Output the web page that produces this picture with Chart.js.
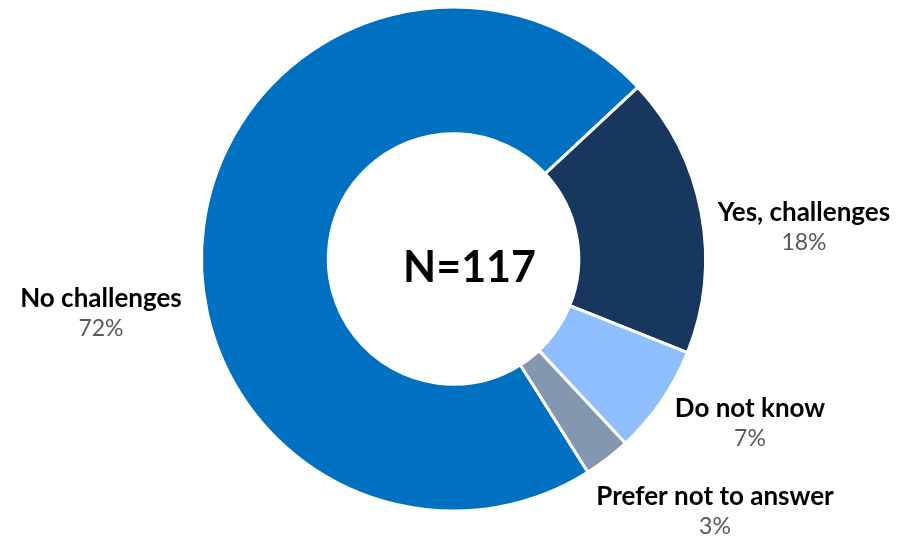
<!DOCTYPE html>
<html>
<head>
<meta charset="utf-8">
<script src="https://cdn.jsdelivr.net/npm/chart.js@4.4.1/dist/chart.umd.min.js"></script>
<style>
    html, body { margin: 0; padding: 0; background: #ffffff; }
    #wrap { width: 901px; height: 536px; position: relative; }
</style>
</head>
<body>
<div id="wrap"><canvas id="challengesChart" width="901" height="536"></canvas></div>
<script>
// ── Data ──────────────────────────────────────────────────────
const categories = ['Yes, challenges', 'Do not know', 'Prefer not to answer', 'No challenges'];
const shares     = [18, 7, 3, 72];
const sliceColors = ['#17375E', '#8FBEFF', '#8497B0', '#0070C0'];
const totalLabel = 'N=117';

// label anchors (centre of the two-line label), canvas px
const labelAnchors = [
    { x: 804, y: 213 },
    { x: 750, y: 409 },
    { x: 715, y: 497 },
    { x: 101, y: 299 }
];

// ── Outside labels + centre text ──────────────────────────────
const sliceLabels = {
    id: 'sliceLabels',
    afterDatasetsDraw(chart) {
        const ctx = chart.ctx;
        const meta = chart.getDatasetMeta(0);
        ctx.save();
        ctx.textAlign = 'center';
        ctx.textBaseline = 'middle';
        meta.data.forEach((arc, i) => {
            const a = labelAnchors[i];
            ctx.fillStyle = '#000000';
            ctx.font = 'bold 26px Lato';
            ctx.fillText(categories[i], a.x, a.y);
            ctx.fillStyle = '#595959';
            ctx.font = '23px Lato';
            ctx.fillText(shares[i] + '%', a.x, a.y + 30);
        });

        const c = meta.data[0];
        ctx.fillStyle = '#000000';
        ctx.font = 'bold 43px Lato';
        ctx.fillText(totalLabel, c.x + 16, c.y + 9);
        ctx.restore();
    }
};

// ── Chart init ────────────────────────────────────────────────
new Chart(document.getElementById('challengesChart'), {
    type: 'doughnut',
    data: {
        labels: categories,
        datasets: [{
            data: shares,
            backgroundColor: sliceColors,
            borderColor: '#ffffff',
            borderWidth: 3
        }]
    },
    options: {
        responsive: false,
        animation: false,
        rotation: 47,
        radius: 252,
        cutout: 128,
        layout: { padding: { left: 6, right: 0, top: 0, bottom: 18 } },
        plugins: {
            legend: { display: false },
            tooltip: { enabled: false }
        }
    },
    plugins: [sliceLabels]
});
</script>
</body>
</html>
